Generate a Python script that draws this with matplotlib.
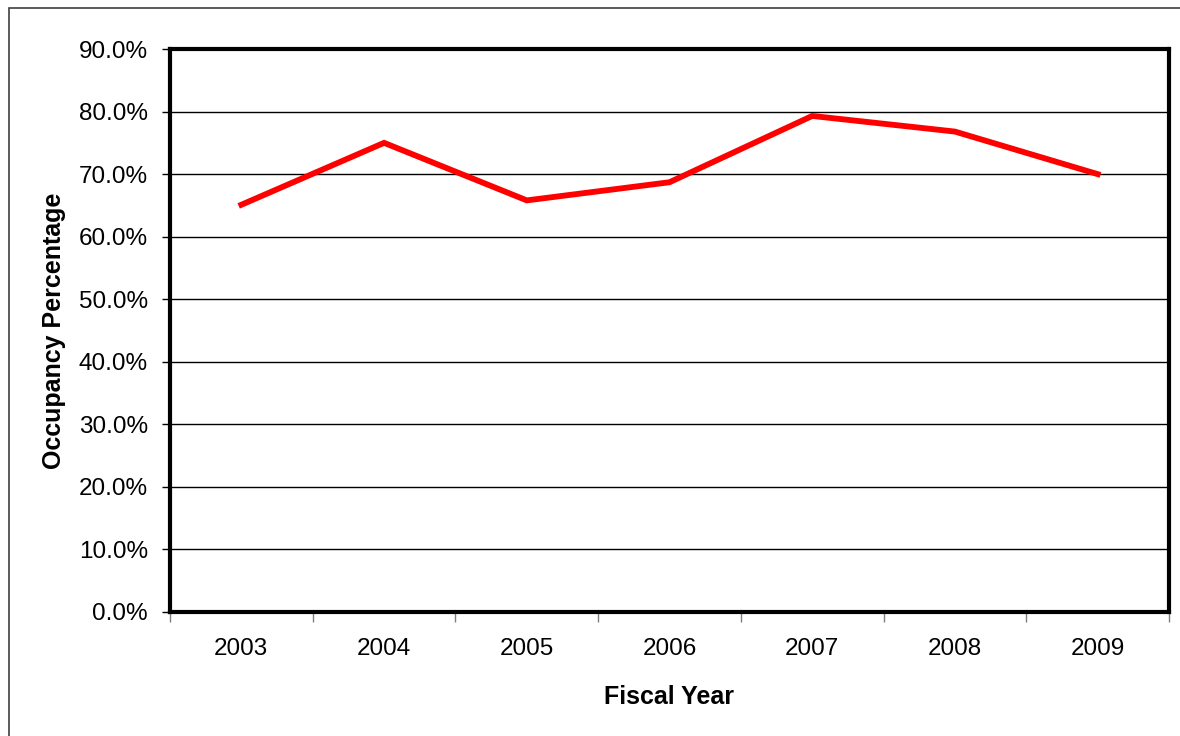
import matplotlib
matplotlib.use("Agg")
import matplotlib.pyplot as plt
from matplotlib.ticker import FuncFormatter, FixedLocator
from matplotlib.patches import Rectangle

plt.rcParams['font.family'] = ['Liberation Sans', 'DejaVu Sans']

years = ['2003', '2004', '2005', '2006', '2007', '2008', '2009']
occupancy = [65.1, 75.0, 65.8, 68.7, 79.3, 76.8, 70.0]

fig = plt.figure(figsize=(11.8, 7.36), dpi=100)
# outer chart frame
fig.patches.append(Rectangle((9 / 1180, -0.1), 1.2, 1.1 - 8 / 736, transform=fig.transFigure,
                             fill=False, edgecolor='#404040', linewidth=1.2))

ax = fig.add_axes([170 / 1180, 1 - 612 / 736, 999 / 1180, 563 / 736])
x = list(range(len(years)))
ax.plot(x, occupancy, color='#ff0000', linewidth=4.2, solid_joinstyle='miter', zorder=3)

ax.set_xlim(-0.5, len(years) - 0.5)
ax.set_ylim(0, 90)
ax.set_yticks(range(0, 91, 10))
ax.yaxis.set_major_formatter(FuncFormatter(lambda v, p: '%.1f%%' % v))
ax.yaxis.grid(True, color='black', linewidth=1.0)
ax.set_axisbelow(True)

ax.set_xticks(x)
ax.set_xticklabels(years)
ax.xaxis.set_minor_locator(FixedLocator([i - 0.5 for i in range(len(years) + 1)]))
ax.tick_params(axis='x', which='major', length=0, pad=19, labelsize=17.5)
ax.tick_params(axis='x', which='minor', length=7, width=1, color='#808080')
ax.tick_params(axis='y', length=6, width=1, labelsize=17.5, pad=10)

for s in ax.spines.values():
    s.set_linewidth(3)
    s.set_color('black')

ax.set_xlabel('Fiscal Year', fontsize=18, fontweight='bold', labelpad=18)
ax.set_ylabel('Occupancy Percentage', fontsize=18, fontweight='bold', labelpad=9)

fig.savefig('out.png', dpi=100)
